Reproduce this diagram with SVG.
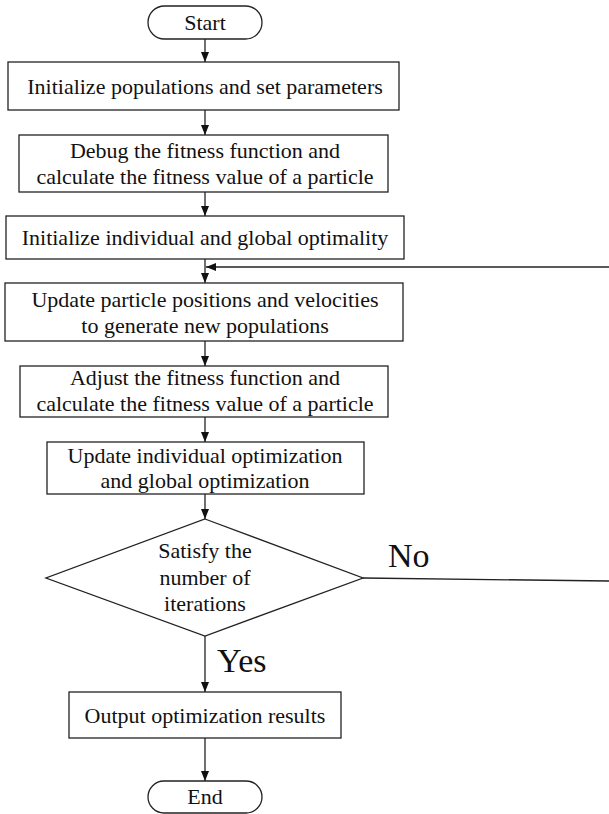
<svg xmlns="http://www.w3.org/2000/svg" width="609" height="814" viewBox="0 0 609 814">
<style>
.n{fill:#fff;stroke:#222;stroke-width:1.3}
.t{font-family:"Liberation Serif","Times New Roman",serif;font-size:22px;fill:#111;text-anchor:middle}
.lb{font-family:"Liberation Serif","Times New Roman",serif;font-size:34px;fill:#111}
.c{fill:none;stroke:#222;stroke-width:1.3}
</style>
<defs>
<marker id="ah" markerUnits="userSpaceOnUse" markerWidth="10" markerHeight="8" refX="10" refY="4" orient="auto">
<path d="M0,0 L10,4 L0,8 z" fill="#111"/>
</marker>
</defs>
<g id="connectors">
<line class="c" x1="205" y1="39" x2="205" y2="62" marker-end="url(#ah)"/>
<line class="c" x1="205" y1="110" x2="205" y2="135" marker-end="url(#ah)"/>
<line class="c" x1="205" y1="192" x2="205" y2="216" marker-end="url(#ah)"/>
<line class="c" x1="205" y1="259" x2="205" y2="283" marker-end="url(#ah)"/>
<line class="c" x1="205" y1="341" x2="205" y2="366" marker-end="url(#ah)"/>
<line class="c" x1="205" y1="417" x2="205" y2="442" marker-end="url(#ah)"/>
<line class="c" x1="205" y1="494" x2="205" y2="519" marker-end="url(#ah)"/>
<line class="c" x1="205" y1="636" x2="205" y2="692" marker-end="url(#ah)"/>
<line class="c" x1="205" y1="738" x2="205" y2="781" marker-end="url(#ah)"/>
<line class="c" x1="609" y1="267" x2="206" y2="267" marker-end="url(#ah)"/>
<line class="c" x1="363" y1="578" x2="609" y2="581"/>
<text class="lb" x="388" y="567">No</text>
<text class="lb" x="217" y="672">Yes</text>
</g>
<g id="start">
<rect class="n" x="148" y="6" width="114" height="33" rx="16.5"/>
<text class="t" x="205" y="30">Start</text>
</g>
<g id="init">
<rect class="n" x="8" y="62" width="391" height="48"/>
<text class="t" x="205" y="94">Initialize populations and set parameters</text>
</g>
<g id="debug">
<rect class="n" x="19" y="135" width="369" height="57"/>
<text class="t" x="205" y="158">Debug the fitness function and</text>
<text class="t" x="205" y="184">calculate the fitness value of a particle</text>
</g>
<g id="initopt">
<rect class="n" x="6" y="216" width="398" height="43"/>
<text class="t" x="205" y="245">Initialize individual and global optimality</text>
</g>
<g id="update">
<rect class="n" x="5" y="283" width="398" height="58"/>
<text class="t" x="205" y="307">Update particle positions and velocities</text>
<text class="t" x="205" y="333">to generate new populations</text>
</g>
<g id="adjust">
<rect class="n" x="20" y="366" width="368" height="51"/>
<text class="t" x="205" y="385">Adjust the fitness function and</text>
<text class="t" x="205" y="411">calculate the fitness value of a particle</text>
</g>
<g id="updopt">
<rect class="n" x="47" y="442" width="317" height="52"/>
<text class="t" x="205" y="463">Update individual optimization</text>
<text class="t" x="205" y="488">and global optimization</text>
</g>
<g id="decision">
<polygon class="n" points="205,519 363,578 205,636 46,578"/>
<text class="t" x="205" y="558">Satisfy the</text>
<text class="t" x="205" y="585">number of</text>
<text class="t" x="205" y="611">iterations</text>
</g>
<g id="output">
<rect class="n" x="69" y="692" width="272" height="46"/>
<text class="t" x="205" y="723">Output optimization results</text>
</g>
<g id="end">
<rect class="n" x="148" y="781" width="114" height="32" rx="16"/>
<text class="t" x="205" y="804">End</text>
</g>
</svg>
